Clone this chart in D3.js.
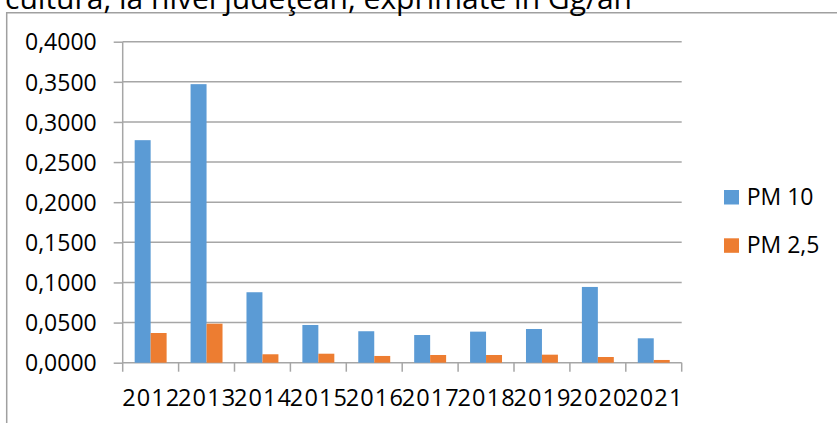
<!DOCTYPE html>
<html>
<head>
<meta charset="utf-8">
<script src="https://cdn.jsdelivr.net/npm/d3@7"></script>
<style>
  html, body { margin: 0; padding: 0; background: #fff; }
  svg { display: block; }
  text { font-family: "Open Sans", "Liberation Sans", sans-serif; fill: #000; }
</style>
</head>
<body>
<svg id="chart" width="837" height="423"></svg>
<script>
// Emisii anuale PM pe ani (Gg/an)
const years = ["2012", "2013", "2014", "2015", "2016", "2017", "2018", "2019", "2020", "2021"];
const seriesNames = ["PM 10", "PM 2,5"];
const pm10 = [0.2773, 0.3471, 0.0878, 0.0470, 0.0392, 0.0345, 0.0387, 0.0420, 0.0944, 0.0304];
const pm25 = [0.0370, 0.0486, 0.0105, 0.0112, 0.0084, 0.0096, 0.0096, 0.0100, 0.0071, 0.0034];
const yTicks = [0, 0.05, 0.10, 0.15, 0.20, 0.25, 0.30, 0.35, 0.40];
const colors = ["#5B9BD5", "#ED7D31"];
const titleText = "cultură, la nivel judeţean, exprimate în Gg/an";

const svg = d3.select("#chart");
const plot = { left: 122.7, right: 681.7, top: 41.7, bottom: 362.7 };
const gridColor = "#A6A6A6";

// Chart frame (only top and left edges visible)
svg.append("path")
  .attr("d", `M6.7,423 V12.7 H837`)
  .attr("fill", "none")
  .attr("stroke", "#A0A0A0")
  .attr("stroke-width", 1.5);

// Title, partly above the frame
svg.append("text")
  .attr("x", 632)
  .attr("y", 8.5)
  .attr("text-anchor", "end")
  .style("font-size", "30px")
  .text(titleText);

const x = d3.scaleBand().domain(years).range([plot.left, plot.right]).padding(0);
const xInner = d3.scaleBand().domain(seriesNames).range([0, x.bandwidth()])
  .paddingInner(0).paddingOuter(0.75);
const y = d3.scaleLinear().domain([0, 0.4]).range([plot.bottom, plot.top]);

const fmt = v => d3.format(".4f")(v).replace(".", ",");

// Y axis with gridlines
const yAxis = svg.append("g")
  .attr("transform", `translate(${plot.left},0)`)
  .call(d3.axisLeft(y).tickValues(yTicks).tickSize(9).tickPadding(17).tickFormat(fmt));
yAxis.select(".domain").remove();
yAxis.selectAll(".tick line").attr("stroke", gridColor).attr("stroke-width", 1.5);
yAxis.selectAll(".tick text").style("font-size", "23px").attr("dy", "0.36em");

svg.append("g").selectAll("line")
  .data(yTicks)
  .join("line")
  .attr("x1", plot.left).attr("x2", plot.right)
  .attr("y1", d => y(d)).attr("y2", d => y(d))
  .attr("stroke", gridColor).attr("stroke-width", 1.5);

// Vertical axis line
svg.append("line")
  .attr("x1", plot.left).attr("x2", plot.left)
  .attr("y1", plot.top).attr("y2", plot.bottom + 9)
  .attr("stroke", gridColor).attr("stroke-width", 1.5);

// Category tick marks at band boundaries
const boundaries = years.map(d => x(d) + x.bandwidth());
svg.append("g").selectAll("line")
  .data(boundaries)
  .join("line")
  .attr("x1", d => d).attr("x2", d => d)
  .attr("y1", plot.bottom).attr("y2", plot.bottom + 9)
  .attr("stroke", gridColor).attr("stroke-width", 1.5);

// Year labels
svg.append("g").selectAll("text")
  .data(years)
  .join("text")
  .attr("x", d => x(d) + x.bandwidth() / 2 + 0.6)
  .attr("y", 406)
  .attr("text-anchor", "middle")
  .style("font-size", "23.5px")
  .style("letter-spacing", "1.1px")
  .text(d => d);

// Bars
const seriesData = [pm10, pm25];
seriesNames.forEach((name, si) => {
  svg.append("g").selectAll("rect")
    .data(years.map((yr, i) => ({ yr, v: seriesData[si][i] })))
    .join("rect")
    .attr("x", d => x(d.yr) + xInner(name))
    .attr("width", xInner.bandwidth())
    .attr("y", d => y(d.v))
    .attr("height", d => y(0) - y(d.v))
    .attr("fill", colors[si]);
});

// Legend
const legend = svg.append("g");
const legendY = [190, 238.3];
seriesNames.forEach((name, i) => {
  legend.append("rect")
    .attr("x", 724).attr("y", legendY[i])
    .attr("width", 15).attr("height", 14.5)
    .attr("fill", colors[i]);
  legend.append("text")
    .attr("x", 746.7).attr("y", legendY[i] + 15)
    .style("font-size", "23px")
    .text(name);
});
</script>
</body>
</html>
